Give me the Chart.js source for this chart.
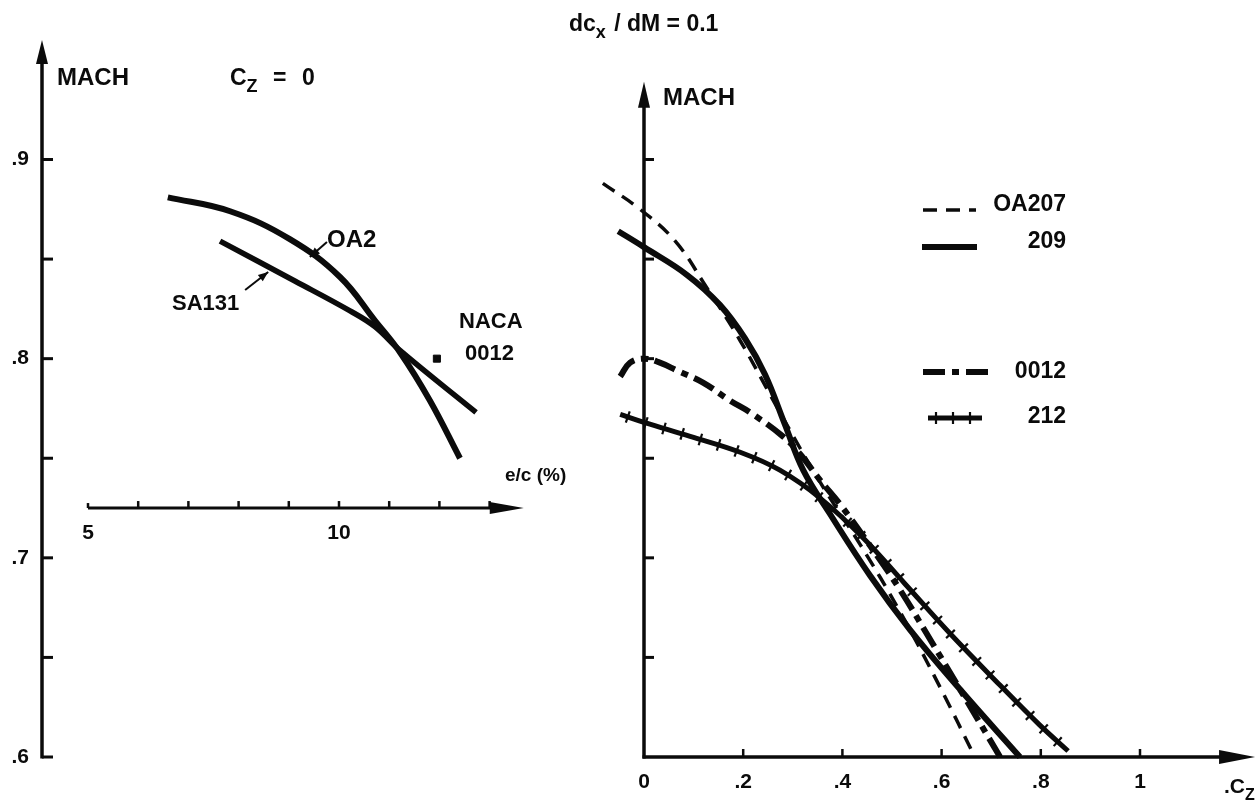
<!DOCTYPE html>
<html lang="en">
<head>
<meta charset="utf-8">
<title>Drag divergence Mach number</title>
<script src="https://cdn.jsdelivr.net/npm/chart.js@4.4.1/dist/chart.umd.min.js"></script>
<style>
  html, body { margin: 0; padding: 0; background: #ffffff; }
  .chart-box { width: 1256px; height: 801px; }
</style>
</head>
<body>
<div class="chart-box"><canvas id="machChart" width="1256" height="801"></canvas></div>
<script>
// Left panel (Cz = 0): Mach number against relative thickness e/c (%)
const oa2Thickness = [6.59, 7.83, 9.02, 10.02, 10.72, 11.22, 11.81, 12.41];
const oa2Mach = [0.881, 0.874, 0.860, 0.841, 0.819, 0.803, 0.779, 0.750];
const sa131Thickness = [7.63, 9.12, 10.22, 10.72, 11.22, 12.73];
const sa131Mach = [0.859, 0.839, 0.824, 0.816, 0.804, 0.773];
const naca0012Thickness = [11.95];
const naca0012Mach = [0.800];

// Right panel: Mach number against lift coefficient Cz
const oa207Cz = [-0.083, -0.008, 0.063, 0.123, 0.194, 0.274, 0.355, 0.435, 0.516, 0.597, 0.667];
const oa207Mach = [0.888, 0.875, 0.859, 0.837, 0.809, 0.773, 0.738, 0.707, 0.673, 0.635, 0.600];
const oa209Cz = [-0.052, 0, 0.087, 0.153, 0.204, 0.244, 0.284, 0.321, 0.375, 0.456, 0.536, 0.637, 0.758];
const oa209Mach = [0.864, 0.856, 0.842, 0.827, 0.810, 0.792, 0.767, 0.744, 0.722, 0.691, 0.664, 0.634, 0.600];
const naca0012Cz = [-0.048, -0.028, 0, 0.032, 0.067, 0.119, 0.173, 0.214, 0.280, 0.315, 0.355, 0.395, 0.456, 0.516, 0.577, 0.637, 0.718];
const naca0012CzMach = [0.791, 0.798, 0.800, 0.798, 0.794, 0.788, 0.779, 0.773, 0.761, 0.752, 0.739, 0.727, 0.706, 0.684, 0.659, 0.634, 0.600];
const oa212Cz = [-0.048, 0, 0.093, 0.194, 0.274, 0.355, 0.442, 0.526, 0.617, 0.718, 0.798, 0.855];
const oa212Mach = [0.772, 0.768, 0.761, 0.753, 0.744, 0.730, 0.710, 0.687, 0.662, 0.636, 0.616, 0.603];

// Tick values and their labels
const machTicks = [0.6, 0.65, 0.7, 0.75, 0.8, 0.85, 0.9];
const machTickLabels = [".6", "", ".7", "", ".8", "", ".9"];
const thicknessTicks = [5, 6, 7, 8, 9, 10, 11, 12, 13];
const thicknessTickLabels = ["5", "", "", "", "", "10", "", "", ""];
const czTicks = [0, 0.2, 0.4, 0.6, 0.8, 1];
const czTickLabels = ["0", ".2", ".4", ".6", ".8", "1"];

// where the original figure puts its axes (pixels), used to line the scales up
const frame = { mach90: 159.5, mach60: 757, ecFive: 88, ecUnit: 50.2, czZero: 644, czUnit: 496 };

const fontFamily = "'Liberation Sans', Arial, Helvetica, sans-serif";
const ink = "#0b0b0b";

const toPoints = (xs, ys) => xs.map((x, i) => ({ x: x, y: ys[i] }));

function boldFont(size) {
  return "bold " + size + "px " + fontFamily;
}

function strokeLine(ctx, x1, y1, x2, y2, width) {
  ctx.lineWidth = width;
  ctx.beginPath();
  ctx.moveTo(x1, y1);
  ctx.lineTo(x2, y2);
  ctx.stroke();
}

function arrowHead(ctx, tipX, tipY, fromX, fromY, len, half) {
  const dx = tipX - fromX;
  const dy = tipY - fromY;
  const d = Math.hypot(dx, dy) || 1;
  const ux = dx / d;
  const uy = dy / d;
  const bx = tipX - ux * len;
  const by = tipY - uy * len;
  ctx.beginPath();
  ctx.moveTo(tipX, tipY);
  ctx.lineTo(bx - uy * half, by + ux * half);
  ctx.lineTo(bx + uy * half, by - ux * half);
  ctx.closePath();
  ctx.fill();
}

// text with an optional subscript part
function drawRichText(ctx, parts, x, y, size) {
  let cx = x;
  parts.forEach((part) => {
    const s = part.sub ? Math.round(size * 0.78) : size;
    ctx.font = boldFont(s);
    ctx.fillText(part.text, cx, part.sub ? y + size * 0.32 : y);
    cx += ctx.measureText(part.text).width + (part.gap || 0);
  });
}

// flatten the drawn (bezier) path of a dataset into a polyline
function datasetPolyline(meta) {
  const pts = meta.data;
  const poly = [];
  for (let i = 0; i < pts.length - 1; i++) {
    const a = pts[i];
    const b = pts[i + 1];
    const c1x = a.cp2x ?? a.x;
    const c1y = a.cp2y ?? a.y;
    const c2x = b.cp1x ?? b.x;
    const c2y = b.cp1y ?? b.y;
    for (let k = 0; k < 24; k++) {
      const t = k / 24;
      const s = 1 - t;
      poly.push({
        x: s * s * s * a.x + 3 * s * s * t * c1x + 3 * s * t * t * c2x + t * t * t * b.x,
        y: s * s * s * a.y + 3 * s * s * t * c1y + 3 * s * t * t * c2y + t * t * t * b.y,
      });
    }
  }
  const last = pts[pts.length - 1];
  poly.push({ x: last.x, y: last.y });
  return poly;
}

function crossTicks(ctx, poly, spacing, half, start) {
  let dist = 0;
  let next = start;
  for (let i = 1; i < poly.length; i++) {
    const p = poly[i - 1];
    const q = poly[i];
    const seg = Math.hypot(q.x - p.x, q.y - p.y);
    if (seg === 0) continue;
    const ux = (q.x - p.x) / seg;
    const uy = (q.y - p.y) / seg;
    while (next <= dist + seg) {
      const t = (next - dist) / seg;
      const px = p.x + (q.x - p.x) * t;
      const py = p.y + (q.y - p.y) * t;
      strokeLine(ctx, px + uy * half, py - ux * half, px - uy * half, py + ux * half, 2.2);
      next += spacing;
    }
    dist += seg;
  }
}

const figureDecor = {
  id: "figureDecor",
  afterDatasetsDraw(chart) {
    const { ctx, chartArea, scales } = chart;
    const y = scales.y;
    const xL = scales.xL;
    const xR = scales.xR;

    ctx.save();
    ctx.strokeStyle = ink;
    ctx.fillStyle = ink;
    ctx.lineCap = "butt";

    // crossed ticks along the 212 curve
    crossTicks(ctx, datasetPolyline(chart.getDatasetMeta(6)), 19, 6, 8);

    // left MACH axis with inward ticks
    const leftX = chartArea.left;
    const yBottom = y.getPixelForValue(0.6);
    const leftTip = y.getPixelForValue(0.96);
    strokeLine(ctx, leftX, yBottom + 1.5, leftX, leftTip + 10, 3.5);
    arrowHead(ctx, leftX, leftTip, leftX, yBottom, 24, 6);
    machTicks.forEach((v) => {
      const py = y.getPixelForValue(v);
      strokeLine(ctx, leftX, py, leftX + 11, py, 3);
    });

    // e/c axis floating in the left panel
    const ecY = y.getPixelForValue(0.725);
    const ecStart = xL.getPixelForValue(5);
    const ecTip = xL.getPixelForValue(13.68);
    strokeLine(ctx, ecStart, ecY, ecTip - 12, ecY, 3);
    arrowHead(ctx, ecTip, ecY, ecStart, ecY, 34, 6);
    thicknessTicks.forEach((v) => {
      const px = xL.getPixelForValue(v);
      strokeLine(ctx, px, ecY, px, ecY - (v === 5 ? 5 : 7), 2.5);
    });

    // right MACH axis and Cz axis
    const zeroX = xR.getPixelForValue(0);
    const rightTip = y.getPixelForValue(0.939);
    strokeLine(ctx, zeroX, yBottom + 1.5, zeroX, rightTip + 10, 3.5);
    arrowHead(ctx, zeroX, rightTip, zeroX, yBottom, 26, 6);
    machTicks.slice(1).forEach((v) => {
      const py = y.getPixelForValue(v);
      strokeLine(ctx, zeroX, py, zeroX + 10, py, 3);
    });
    const czTip = xR.getPixelForValue(1.232);
    strokeLine(ctx, zeroX - 1.5, yBottom, czTip - 12, yBottom, 3.5);
    arrowHead(ctx, czTip, yBottom, zeroX, yBottom, 36, 7);
    czTicks.slice(1).forEach((v) => {
      const px = xR.getPixelForValue(v);
      strokeLine(ctx, px, yBottom, px, yBottom - 8, 2.5);
    });

    // pointers from labels to curves
    const oa2From = [xL.getPixelForValue(9.76), y.getPixelForValue(0.8586)];
    const oa2Tip = [xL.getPixelForValue(9.42), y.getPixelForValue(0.851)];
    strokeLine(ctx, oa2From[0], oa2From[1], oa2Tip[0], oa2Tip[1], 2);
    arrowHead(ctx, oa2Tip[0], oa2Tip[1], oa2From[0], oa2From[1], 10, 4);
    const saFrom = [xL.getPixelForValue(8.13), y.getPixelForValue(0.8345)];
    const saTip = [xL.getPixelForValue(8.59), y.getPixelForValue(0.8435)];
    strokeLine(ctx, saFrom[0], saFrom[1], saTip[0], saTip[1], 2);
    arrowHead(ctx, saTip[0], saTip[1], saFrom[0], saFrom[1], 10, 4);

    // legend for the right panel
    const legendRows = [
      { index: 3, x1: 923, x2: 976, y: 210, textY: 211 },
      { index: 4, x1: 922, x2: 977, y: 247, textY: 248 },
      { index: 5, x1: 923, x2: 988, y: 372, textY: 378 },
      { index: 6, x1: 928, x2: 982, y: 418, textY: 423 },
    ];
    legendRows.forEach((row) => {
      const ds = chart.data.datasets[row.index];
      ctx.save();
      ctx.setLineDash(ds.borderDash || []);
      strokeLine(ctx, row.x1, row.y, row.x2, row.y, ds.borderWidth);
      ctx.restore();
      if (row.index === 6) {
        [936, 953, 970].forEach((px) => strokeLine(ctx, px, row.y - 6, px, row.y + 6, 2.2));
      }
      ctx.font = boldFont(23);
      ctx.textAlign = "right";
      ctx.fillText(ds.label, 1066, row.textY);
      ctx.textAlign = "left";
    });

    // titles and annotations
    ctx.textBaseline = "alphabetic";
    ctx.textAlign = "left";
    drawRichText(ctx, [{ text: "dc" }, { text: "x", sub: true, gap: 2 }, { text: " / dM = 0.1" }], 569, 31, 23);
    ctx.font = boldFont(24);
    ctx.fillText("MACH", 57, 85);
    ctx.fillText("MACH", 663, 105);
    drawRichText(ctx, [{ text: "C" }, { text: "Z", sub: true }], 230, 85, 23);
    ctx.font = boldFont(23);
    ctx.fillText("=", 273, 85);
    ctx.fillText("0", 302, 85);
    ctx.font = boldFont(24);
    ctx.fillText("OA2", 327, 247);
    ctx.font = boldFont(22);
    ctx.fillText("SA131", 172, 310);
    ctx.fillText("NACA", 459, 328);
    ctx.fillText("0012", 465, 360);
    ctx.font = boldFont(19);
    ctx.fillText("e/c (%)", 505, 481);
    drawRichText(ctx, [{ text: ".C" }, { text: "Z", sub: true }], 1224, 793, 21);
    ctx.restore();
  },
};

const tickFont = { family: fontFamily, size: 21, weight: "bold" };

function curve(label, points, axis, width, dash) {
  return {
    label: label,
    data: points,
    xAxisID: axis,
    borderColor: ink,
    borderWidth: width,
    borderDash: dash || [],
    tension: 0.4,
    pointRadius: 0,
  };
}

const machChart = new Chart(document.getElementById("machChart"), {
  type: "line",
  data: {
    datasets: [
      curve("OA2", toPoints(oa2Thickness, oa2Mach), "xL", 6),
      curve("SA131", toPoints(sa131Thickness, sa131Mach), "xL", 5.5),
      {
        label: "NACA 0012",
        data: toPoints(naca0012Thickness, naca0012Mach),
        xAxisID: "xL",
        showLine: false,
        pointStyle: "rect",
        pointRadius: 5,
        backgroundColor: ink,
        borderColor: ink,
      },
      curve("OA207", toPoints(oa207Cz, oa207Mach), "xR", 3.5, [14, 9]),
      curve("209", toPoints(oa209Cz, oa209Mach), "xR", 6),
      curve("0012", toPoints(naca0012Cz, naca0012CzMach), "xR", 6, [22, 7, 7, 7]),
      curve("212", toPoints(oa212Cz, oa212Mach), "xR", 5),
    ],
  },
  options: {
    responsive: false,
    animation: false,
    clip: false,
    layout: { padding: { top: 10, right: 0, bottom: 0, left: 0 } },
    plugins: {
      legend: { display: false },
      tooltip: { enabled: false },
    },
    scales: {
      y: {
        type: "linear",
        position: "left",
        min: 0.6,
        max: 0.975,
        afterFit: (scale) => {
          scale.width = 42;
        },
        afterBuildTicks: (scale) => {
          scale.ticks = machTicks.map((v) => ({ value: v }));
        },
        grid: { display: false, drawTicks: false },
        border: { display: false },
        ticks: {
          autoSkip: false,
          padding: 13,
          color: ink,
          font: tickFont,
          callback: (value, index) => machTickLabels[index],
        },
      },
      xL: {
        type: "linear",
        position: { y: 0.725 },
        min: 4.08,
        max: 28.2,
        afterBuildTicks: (scale) => {
          scale.ticks = thicknessTicks.map((v) => ({ value: v }));
        },
        grid: { display: false, drawTicks: false },
        border: { display: false },
        ticks: {
          autoSkip: false,
          maxRotation: 0,
          padding: 13,
          color: ink,
          font: tickFont,
          callback: (value, index) => thicknessTickLabels[index],
        },
      },
      xR: {
        type: "linear",
        position: "bottom",
        min: -1.21,
        max: 1.22,
        afterFit: (scale) => {
          scale.height = 44;
        },
        afterBuildTicks: (scale) => {
          scale.ticks = czTicks.map((v) => ({ value: v }));
        },
        grid: { display: false, drawTicks: false },
        border: { display: false },
        ticks: {
          autoSkip: false,
          maxRotation: 0,
          padding: 13,
          color: ink,
          font: tickFont,
          callback: (value, index) => czTickLabels[index],
        },
      },
    },
  },
  plugins: [figureDecor],
});

// line the scale ranges up with the figure's axis positions, then redraw
function fitScalesToFrame(chart) {
  const area = chart.chartArea;
  const s = chart.options.scales;
  const machPerPx = 0.3 / (frame.mach60 - frame.mach90);
  s.y.min = 0.6 - (area.bottom - frame.mach60) * machPerPx;
  s.y.max = 0.9 + (frame.mach90 - area.top) * machPerPx;
  s.xL.min = 5 - (frame.ecFive - area.left) / frame.ecUnit;
  s.xL.max = 5 + (area.right - frame.ecFive) / frame.ecUnit;
  s.xR.min = -(frame.czZero - area.left) / frame.czUnit;
  s.xR.max = (area.right - frame.czZero) / frame.czUnit;
  chart.update();
}

fitScalesToFrame(machChart);
fitScalesToFrame(machChart);
</script>
</body>
</html>
